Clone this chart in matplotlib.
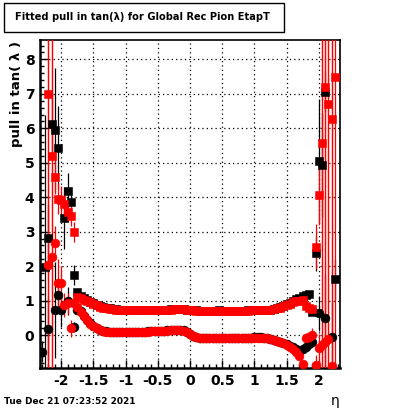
import numpy as np
import matplotlib
matplotlib.use("Agg")
import matplotlib.pyplot as plt
from matplotlib.patches import Rectangle
from matplotlib.ticker import MultipleLocator, FormatStrFormatter

nan = np.nan

# eta bin centres
eta = [-2.30, -2.25, -2.20, -2.15, -2.10, -2.05, -2.00, -1.95, -1.90, -1.85,
       -1.80, -1.75, -1.70, -1.65, -1.60, -1.55, -1.50, -1.45, -1.40, -1.35,
       -1.30, -1.25, -1.20, -1.15, -1.10, -1.05, -1.00, -0.95, -0.90, -0.85,
       -0.80, -0.75, -0.70, -0.65, -0.60, -0.55, -0.50, -0.45, -0.40, -0.35,
       -0.30, -0.25, -0.20, -0.15, -0.10, -0.05, 0.00, 0.05, 0.10, 0.15,
       0.20, 0.25, 0.30, 0.35, 0.40, 0.45, 0.50, 0.55, 0.60, 0.65,
       0.70, 0.75, 0.80, 0.85, 0.90, 0.95, 1.00, 1.05, 1.10, 1.15,
       1.20, 1.25, 1.30, 1.35, 1.40, 1.45, 1.50, 1.55, 1.60, 1.65,
       1.70, 1.75, 1.80, 1.85, 1.90, 1.95, 2.00, 2.05, 2.10, 2.15,
       2.20, 2.25, 2.30]

# red: sigma (squares) and mean (circles)
red_sigma = [nan, nan, 6.99, 5.19, 4.59, 3.95, 3.92, 3.79, 3.58, 3.45,
             2.99, 1.10, 1.07, 1.03, 0.99, 0.95, 0.91, 0.86, 0.82, 0.79,
             0.77, 0.76, 0.75, 0.74, 0.74, 0.73, 0.73, 0.73, 0.72, 0.72,
             0.72, 0.72, 0.72, 0.72, 0.73, 0.73, 0.73, 0.73, 0.73, 0.74,
             0.74, 0.75, 0.75, 0.75, 0.75, 0.74, 0.73, 0.72, 0.71, 0.71,
             0.71, 0.71, 0.71, 0.71, 0.71, 0.71, 0.71, 0.71, 0.71, 0.71,
             0.71, 0.71, 0.71, 0.71, 0.71, 0.72, 0.72, 0.72, 0.72, 0.72,
             0.73, 0.74, 0.75, 0.77, 0.79, 0.83, 0.87, 0.91, 0.95, 0.98,
             1.00, 1.01, 0.83, 0.78, 0.76, 2.56, 4.05, 5.56, 7.20, 6.70,
             6.26, 7.48, nan]
red_sigma_err = [0, 0, 12, 12, 0.5, 0.45, 0.4, 0.35, 0.3, 0.3,
                 0.3, 0.03, 0.02, 0.02, 0.02, 0.02, 0.02, 0.02, 0.02, 0.02,
                 0.02, 0.02, 0.02, 0.02, 0.02, 0.02, 0.02, 0.02, 0.02, 0.02,
                 0.02, 0.02, 0.02, 0.02, 0.02, 0.02, 0.02, 0.02, 0.02, 0.02,
                 0.02, 0.02, 0.02, 0.02, 0.02, 0.02, 0.02, 0.02, 0.02, 0.02,
                 0.02, 0.02, 0.02, 0.02, 0.02, 0.02, 0.02, 0.02, 0.02, 0.02,
                 0.02, 0.02, 0.02, 0.02, 0.02, 0.02, 0.02, 0.02, 0.02, 0.02,
                 0.02, 0.02, 0.02, 0.02, 0.02, 0.02, 0.02, 0.02, 0.02, 0.02,
                 0.02, 0.03, 0.03, 0.03, 0.05, 0.65, 0.85, 12, 12, 12,
                 12, 12, 0]
red_mean = [nan, nan, 2.03, 2.27, 2.67, 1.50, 1.50, 0.87, 0.92, 0.19,
            0.93, 0.80, 0.68, 0.55, 0.43, 0.33, 0.26, 0.20, 0.15, 0.12,
            0.10, 0.09, 0.09, 0.08, 0.08, 0.08, 0.08, 0.08, 0.09, 0.09,
            0.09, 0.10, 0.10, 0.10, 0.11, 0.11, 0.12, 0.12, 0.13, 0.13,
            0.14, 0.14, 0.15, 0.15, 0.13, 0.09, 0.03, -0.03, -0.07, -0.09,
            -0.10, -0.10, -0.10, -0.10, -0.10, -0.10, -0.10, -0.09, -0.09, -0.09,
            -0.09, -0.09, -0.09, -0.08, -0.08, -0.08, -0.08, -0.08, -0.08, -0.08,
            -0.09, -0.11, -0.14, -0.17, -0.20, -0.24, -0.29, -0.34, -0.40, -0.48,
            -0.60, -0.85, -0.08, -0.05, 0.00, -0.87, -0.38, -0.29, -0.20, -0.12,
            -0.89, nan, nan]
red_mean_err = [0, 0, 12, 12, 0.5, 0.7, 0.5, 0.35, 0.3, 0.25,
                0.25, 0.03, 0.02, 0.02, 0.02, 0.02, 0.02, 0.02, 0.02, 0.02,
                0.02, 0.02, 0.02, 0.02, 0.02, 0.02, 0.02, 0.02, 0.02, 0.02,
                0.02, 0.02, 0.02, 0.02, 0.02, 0.02, 0.02, 0.02, 0.02, 0.02,
                0.02, 0.02, 0.02, 0.02, 0.02, 0.02, 0.02, 0.02, 0.02, 0.02,
                0.02, 0.02, 0.02, 0.02, 0.02, 0.02, 0.02, 0.02, 0.02, 0.02,
                0.02, 0.02, 0.02, 0.02, 0.02, 0.02, 0.02, 0.02, 0.02, 0.02,
                0.02, 0.02, 0.02, 0.02, 0.02, 0.02, 0.02, 0.02, 0.02, 0.02,
                0.03, 0.05, 0.15, 0.15, 0.2, 0.3, 0.4, 12, 12, 12,
                12, 0, 0]

# black: sigma (squares) and mean (circles)
black_sigma = [nan, 1.98, 2.81, 6.12, 5.95, 5.44, nan, 3.40, 4.19, 3.87,
               1.74, 1.24, 1.13, 1.07, 1.02, 0.97, 0.92, 0.87, 0.83, 0.80,
               0.78, 0.77, 0.75, 0.75, 0.74, 0.74, 0.73, 0.73, 0.73, 0.73,
               0.73, 0.72, 0.72, 0.72, 0.73, 0.73, 0.73, 0.74, 0.74, 0.74,
               0.75, 0.75, 0.76, 0.75, 0.75, 0.74, 0.73, 0.72, 0.72, 0.71,
               0.71, 0.71, 0.71, 0.71, 0.71, 0.72, 0.71, 0.71, 0.71, 0.71,
               0.71, 0.71, 0.71, 0.71, 0.72, 0.72, 0.72, 0.72, 0.72, 0.72,
               0.73, 0.74, 0.76, 0.78, 0.80, 0.85, 0.89, 0.94, 0.99, 1.04,
               1.08, 1.12, 1.15, 1.18, 0.68, 2.37, 5.05, 4.93, 7.06, nan,
               nan, 1.62, nan]
black_sigma_err = [0, 4.4, 1.0, 0.9, 1.8, 1.2, 0, 0.9, 0.5, 0.4,
                   0.3, 0.05, 0.03, 0.02, 0.02, 0.02, 0.02, 0.02, 0.02, 0.02,
                   0.02, 0.02, 0.02, 0.02, 0.02, 0.02, 0.02, 0.02, 0.02, 0.02,
                   0.02, 0.02, 0.02, 0.02, 0.02, 0.02, 0.02, 0.02, 0.02, 0.02,
                   0.02, 0.02, 0.02, 0.02, 0.02, 0.02, 0.02, 0.02, 0.02, 0.02,
                   0.02, 0.02, 0.02, 0.02, 0.02, 0.02, 0.02, 0.02, 0.02, 0.02,
                   0.02, 0.02, 0.02, 0.02, 0.02, 0.02, 0.02, 0.02, 0.02, 0.02,
                   0.02, 0.02, 0.02, 0.02, 0.02, 0.02, 0.02, 0.02, 0.02, 0.02,
                   0.03, 0.03, 0.04, 0.05, 0.1, 0.5, 1.8, 1.5, 0.6, 0,
                   0, 0.6, 0]
black_mean = [-0.48, nan, 0.17, nan, 0.73, 1.16, 0.73, nan, 0.98, nan,
              0.24, 0.74, 0.69, 0.56, 0.44, 0.34, 0.27, 0.21, 0.16, 0.13,
              0.11, 0.10, 0.09, 0.09, 0.09, 0.08, 0.09, 0.09, 0.09, 0.09,
              0.10, 0.10, 0.10, 0.11, 0.11, 0.12, 0.12, 0.12, 0.13, 0.14,
              0.14, 0.15, 0.15, 0.16, 0.14, 0.10, 0.04, -0.03, -0.07, -0.09,
              -0.10, -0.10, -0.10, -0.10, -0.10, -0.10, -0.09, -0.09, -0.09, -0.09,
              -0.09, -0.09, -0.08, -0.08, -0.08, -0.08, -0.07, -0.07, -0.07, -0.08,
              -0.09, -0.11, -0.13, -0.16, -0.19, -0.23, -0.27, -0.31, -0.36, -0.42,
              -0.50, -0.42, -0.34, -0.27, -0.21, nan, 0.63, nan, 0.48, nan,
              -0.05, nan, nan]
black_mean_err = [0.3, 0, 0.9, 0, 1.4, 0.5, 0.5, 0, 0.4, 0,
                  0.15, 0.03, 0.02, 0.02, 0.02, 0.02, 0.02, 0.02, 0.02, 0.02,
                  0.02, 0.02, 0.02, 0.02, 0.02, 0.02, 0.02, 0.02, 0.02, 0.02,
                  0.02, 0.02, 0.02, 0.02, 0.02, 0.02, 0.02, 0.02, 0.02, 0.02,
                  0.02, 0.02, 0.02, 0.02, 0.02, 0.02, 0.02, 0.02, 0.02, 0.02,
                  0.02, 0.02, 0.02, 0.02, 0.02, 0.02, 0.02, 0.02, 0.02, 0.02,
                  0.02, 0.02, 0.02, 0.02, 0.02, 0.02, 0.02, 0.02, 0.02, 0.02,
                  0.02, 0.02, 0.02, 0.02, 0.02, 0.02, 0.02, 0.02, 0.02, 0.02,
                  0.05, 0.06, 0.08, 0.1, 0.12, 0, 0.5, 0, 1.3, 0,
                  1.0, 0, 0]

title = "Fitted pull in tan(\u03bb) for Global Rec Pion EtapT"
ylabel = "pull in tan( \u03bb )"
xlabel = "\u03b7"
date = "Tue Dec 21 07:23:52 2021"

fig = plt.figure(figsize=(4.0, 4.09), dpi=100)
ax = fig.add_axes([0.1, 0.1, 0.75, 0.802])

ms = 6.0
series = [("black", black_sigma, black_sigma_err, black_mean, black_mean_err),
          ("red", red_sigma, red_sigma_err, red_mean, red_mean_err)]
for col, sig, sig_e, mu, mu_e in series:
    ax.errorbar(eta, sig, yerr=sig_e, fmt="s", color=col, ms=ms, mec=col, mew=0.4,
                elinewidth=0.9, capsize=0, zorder=3)
    ax.errorbar(eta, mu, yerr=mu_e, fmt="o", color=col, ms=ms + 0.4, mec=col, mew=0.4,
                elinewidth=0.9, capsize=0, zorder=3)

ax.set_xlim(-2.33, 2.33)
ax.set_ylim(-0.96, 8.56)
ax.xaxis.set_major_locator(MultipleLocator(0.5))
ax.xaxis.set_minor_locator(MultipleLocator(0.1))
ax.yaxis.set_major_locator(MultipleLocator(1))
ax.yaxis.set_minor_locator(MultipleLocator(0.2))
ax.xaxis.set_major_formatter(FormatStrFormatter("%g"))
ax.yaxis.set_major_formatter(FormatStrFormatter("%g"))
ax.grid(True, which="major", color="black", linestyle=(0, (1, 2.5)), linewidth=0.9)
ax.set_axisbelow(True)
ax.tick_params(which="both", direction="in", top=False, right=False, width=1)
ax.tick_params(which="major", length=6, labelsize=10, pad=4)
ax.tick_params(which="minor", length=3)
for lab in ax.get_xticklabels() + ax.get_yticklabels():
    lab.set_fontweight("bold")
for sp in ax.spines.values():
    sp.set_linewidth(1.2)
ax.spines["left"].set_linewidth(1.8)
ax.spines["bottom"].set_linewidth(1.8)

fig.patches.append(Rectangle((4 / 400, 1 - 32 / 409), 280 / 400, 29 / 409,
                             transform=fig.transFigure, fill=False,
                             edgecolor="black", linewidth=1.0))
fig.text(142 / 400, 1 - 17.5 / 409, title, ha="center", va="center",
         fontsize=7.1, fontweight="bold")
fig.text(17 / 400, 0.9, ylabel, rotation=90, ha="center", va="top",
         fontsize=9.5, fontweight="bold")
fig.text(335 / 400, 1 - 401 / 409, xlabel, ha="center", va="center", fontsize=10)
fig.text(4 / 400, 1 - 401 / 409, date, ha="left", va="center",
         fontsize=6.5, fontweight="bold")

fig.savefig("out.png", dpi=100)
